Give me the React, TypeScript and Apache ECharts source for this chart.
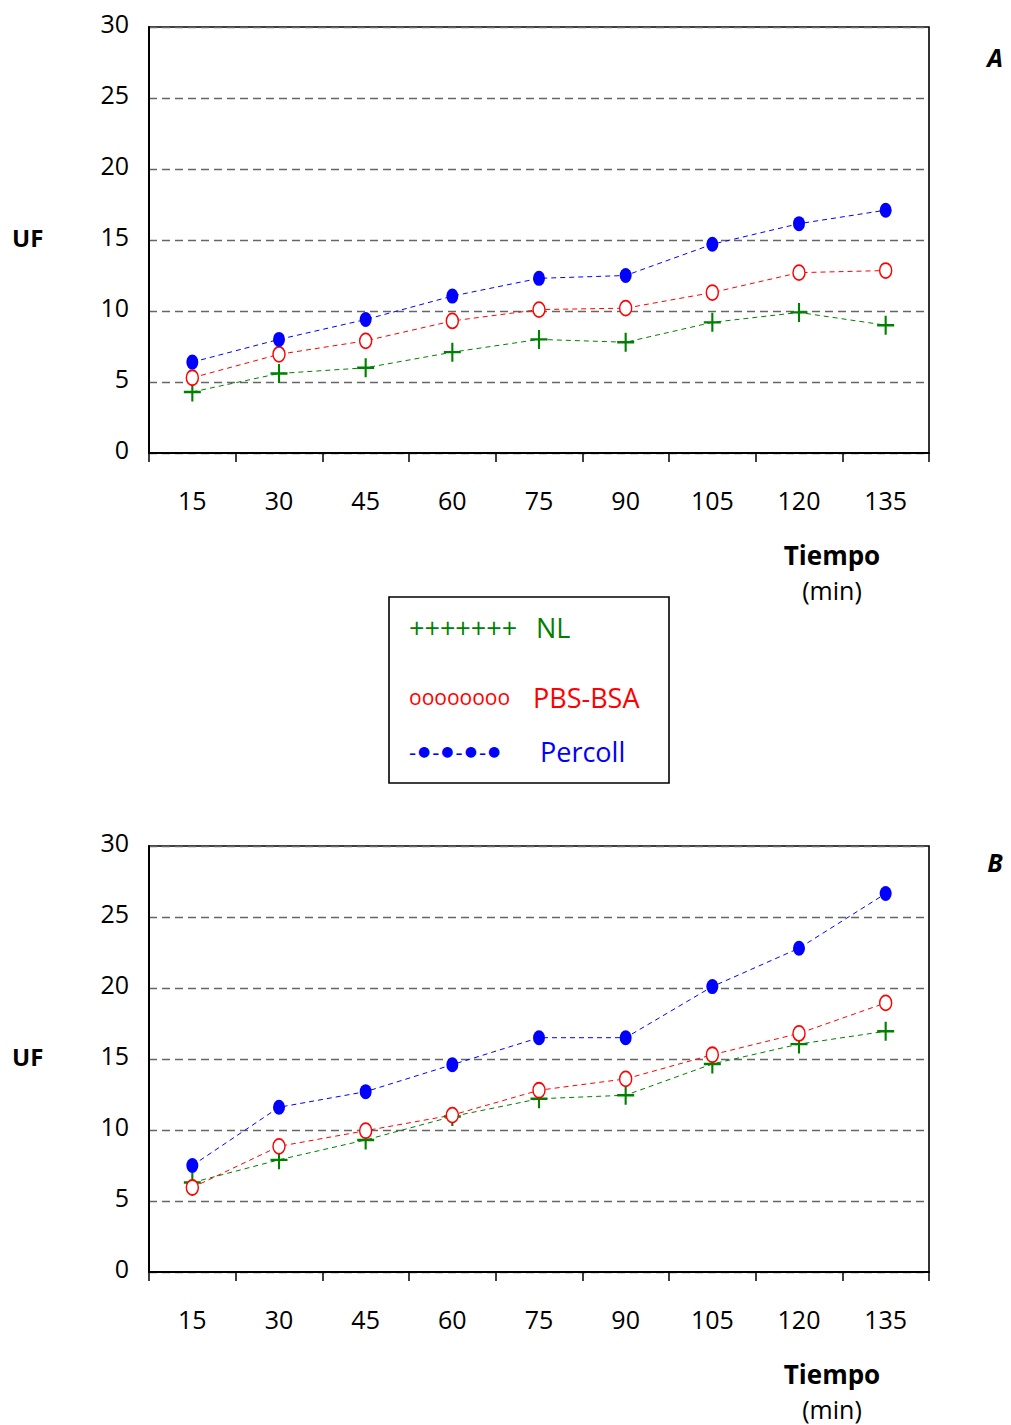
import React, { useEffect, useRef } from "react";
import * as echarts from "echarts";

const categories = ["15", "30", "45", "60", "75", "90", "105", "120", "135"];
const seriesNames = ["NL", "PBS-BSA", "Percoll"];
const seriesColors = ["#008000", "#ff0000", "#0000ff"];
const legendMarks = ["+++++++", "oooooooo", "{d|-}{c|\u25cf}{d|-}{c|\u25cf}{d|-}{c|\u25cf}{d|-}{c|\u25cf}"];

const nlA = [4.3, 5.6, 6.0, 7.1, 8.0, 7.8, 9.2, 9.9, 9.0];
const pbsA = [5.3, 6.95, 7.9, 9.3, 10.1, 10.2, 11.3, 12.7, 12.85];
const percollA = [6.4, 8.0, 9.4, 11.05, 12.3, 12.5, 14.7, 16.15, 17.1];

const nlB = [6.3, 7.9, 9.3, 10.95, 12.2, 12.45, 14.65, 16.05, 16.95];
const pbsB = [5.95, 8.85, 9.95, 11.05, 12.8, 13.6, 15.3, 16.8, 18.95];
const percollB = [7.5, 11.6, 12.7, 14.6, 16.5, 16.5, 20.1, 22.8, 26.65];

const yTicks = [0, 5, 10, 15, 20, 25, 30];
const panelLabels = ["A", "B"];
const yTitle = "UF";
const xTitle = "Tiempo";
const xUnit = "(min)";

const FONT = "'Open Sans', sans-serif";
const DEJAVU = "'DejaVu Sans', sans-serif";

const plusPath = "path://M7,0 H9 V7 H16 V9 H9 V16 H7 V9 H0 V7 H7 Z";
const ellipsePath = "path://M0,50 A50,50 0 1,1 100,50 A50,50 0 1,1 0,50 Z";

export default function App() {
  const ref = useRef<HTMLDivElement>(null);
  useEffect(() => {
    if (!ref.current) return;
    const chart = echarts.init(ref.current, undefined, { renderer: "svg" });
    const grids = [
      { left: 149, top: 27, width: 780, height: 426 },
      { left: 149, top: 846, width: 780, height: 426 },
    ];
    const dataSets = [
      [nlA, pbsA, percollA],
      [nlB, pbsB, percollB],
    ];
    const xAxes = grids.map((_, i) => ({
      type: "category",
      gridIndex: i,
      data: categories,
      boundaryGap: true,
      axisLine: { lineStyle: { color: "#000", width: 2 } },
      axisTick: { show: true, length: 9, lineStyle: { color: "#000", width: 1.5 } },
      axisLabel: { color: "#000", fontSize: 25, fontFamily: FONT, margin: 34 },
      splitLine: { show: false },
    }));
    const yAxes = grids.map((_, i) => ({
      type: "value",
      gridIndex: i,
      min: yTicks[0],
      max: yTicks[yTicks.length - 1],
      interval: 5,
      axisLine: { show: true, lineStyle: { color: "#000", width: 2 } },
      axisTick: { show: false },
      axisLabel: {
        color: "#000",
        fontSize: 25,
        fontFamily: FONT,
        margin: 20,
        verticalAlign: "bottom",
        lineHeight: 8,
      },
      splitLine: { show: true, lineStyle: { color: "#666", width: 1.4, type: [8, 5] } },
    }));
    const symbols = [plusPath, ellipsePath, ellipsePath];
    const symbolSizes = [[17, 19], [12, 15], [12, 15]];
    const series: any[] = [];
    dataSets.forEach((set, gi) => {
      set.forEach((vals, si) => {
        series.push({
          type: "line",
          name: seriesNames[si],
          xAxisIndex: gi,
          yAxisIndex: gi,
          data: vals,
          symbol: symbols[si],
          symbolSize: symbolSizes[si],
          showAllSymbol: true,
          lineStyle: { color: seriesColors[si], width: 1, type: [5, 4] },
          itemStyle:
            si === 1
              ? { color: "#fff", borderColor: seriesColors[si], borderWidth: 1.6 }
              : { color: seriesColors[si], borderWidth: 0 },
          emphasis: { disabled: true },
          z: 3 + si,
        });
      });
    });

    const graphic: any[] = [];
    const panelTops = [27, 846];
    const panelLabelY = [57, 862];
    panelTops.forEach((top, i) => {
      graphic.push({
        type: "text",
        left: 12,
        top: top + 198,
        style: { text: yTitle, fontSize: 24, fontWeight: "bold", fontFamily: FONT, fill: "#000" },
      });
      graphic.push({
        type: "text",
        x: 995,
        y: panelLabelY[i],
        style: { text: panelLabels[i], fontSize: 25, fontWeight: "bold", fontStyle: "italic", fontFamily: FONT, fill: "#000", align: "center", verticalAlign: "middle" },
      });
      graphic.push({
        type: "text",
        x: 832,
        y: top + 528,
        style: { text: xTitle, fontSize: 26, fontWeight: "bold", fontFamily: FONT, fill: "#000", align: "center", verticalAlign: "middle" },
      });
      graphic.push({
        type: "text",
        x: 832,
        y: top + 563,
        style: { text: xUnit, fontSize: 25, fontFamily: FONT, fill: "#000", align: "center", verticalAlign: "middle" },
      });
    });
    // legend box
    graphic.push({
      type: "rect",
      shape: { x: 389, y: 597, width: 280, height: 186 },
      style: { fill: "none", stroke: "#000", lineWidth: 1.6 },
    });
    const rowY = [627, 697, 751];
    const markSizes = [27, 21, 22];
    const nameX = [536, 533, 540];
    seriesNames.forEach((name, i) => {
      graphic.push({
        type: "text",
        x: 409,
        y: rowY[i],
        style: {
          text: legendMarks[i],
          fontSize: markSizes[i],
          fontFamily: FONT,
          fill: seriesColors[i],
          verticalAlign: "middle",
          rich:
            i === 2
              ? {
                  d: { fontSize: 22, fontFamily: FONT, fill: seriesColors[i], lineHeight: 24 },
                  c: { fontSize: 14, fontFamily: DEJAVU, fill: seriesColors[i], padding: [0, 2, 0, 2], lineHeight: 24 },
                }
              : undefined,
        },
      });
      graphic.push({
        type: "text",
        x: nameX[i],
        y: rowY[i],
        style: { text: name, fontSize: 27, fontFamily: FONT, fill: seriesColors[i], verticalAlign: "middle" },
      });
    });

    chart.setOption({
      animation: false,
      backgroundColor: "#fff",
      grid: grids.map((g) => ({ ...g, show: true, borderColor: "#000", borderWidth: 1.6, backgroundColor: "transparent" })),
      xAxis: xAxes,
      yAxis: yAxes,
      series,
      graphic,
    });
    return () => chart.dispose();
  }, []);
  return (
    <div
      ref={ref}
      style={{ position: "absolute", left: 0, top: 0, width: 1011, height: 1425, background: "#fff" }}
    />
  );
}
